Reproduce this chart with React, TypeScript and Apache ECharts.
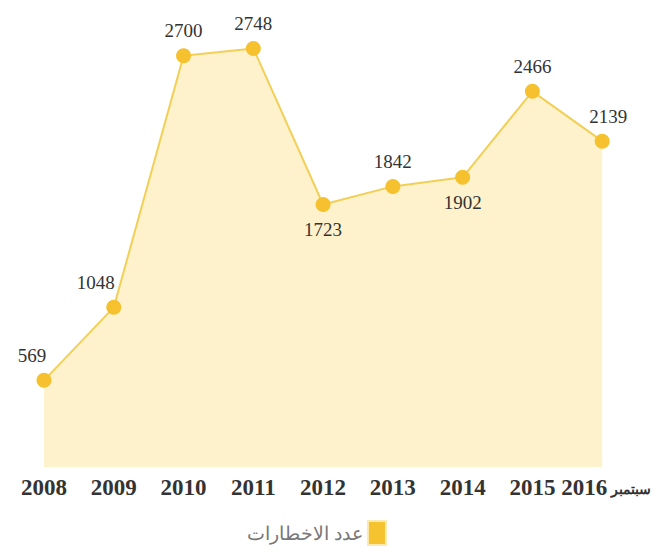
import React, { useEffect, useRef } from "react";
import * as echarts from "echarts";

const categories = ["2008", "2009", "2010", "2011", "2012", "2013", "2014", "2015", "سبتمبر 2016"];
const values = [569, 1048, 2700, 2748, 1723, 1842, 1902, 2466, 2139];
const seriesName = "عدد الاخطارات";
// label placement per point: "top" or "bottom", with horizontal nudge
const labelPos = ["top", "top", "top", "top", "bottom", "top", "bottom", "top", "top"];
const labelDx = [-12, -18, 0, 0, 0, 0, 0, 0, 6];

export default function App() {
  const ref = useRef<HTMLDivElement>(null);
  useEffect(() => {
    if (!ref.current) return;
    const chart = echarts.init(ref.current, null, { renderer: "svg" });
    const numFont = "'Liberation Serif', serif";
    chart.setOption({
      animation: false,
      backgroundColor: "#ffffff",
      grid: { left: 44, right: 41, top: 10, bottom: 87, containLabel: false },
      xAxis: {
        type: "category",
        data: categories,
        boundaryGap: false,
        axisLine: { show: false },
        axisTick: { show: false },
        axisLabel: {
          margin: 9,
          color: "#333333",
          fontSize: 23,
          fontWeight: "bold",
          fontFamily: numFont,
          interval: 0,
          formatter: (v: string) => {
            const m = v.match(/^(\D+)\s+(\d+)$/);
            if (m) return "{num|" + m[2] + "}{ar| " + m[1] + "}";
            return v;
          },
          rich: {
            num: {
              color: "#333333",
              fontSize: 23,
              fontWeight: "bold",
              fontFamily: numFont,
              padding: [0, 0, 0, 8],
            },
            ar: {
              color: "#333333",
              fontSize: 14,
              fontFamily: "'Noto Sans', sans-serif",
              padding: [2, 0, 0, 0],
            },
          },
        },
      },
      yAxis: {
        type: "value",
        min: 0,
        max: 3000,
        show: false,
        splitLine: { show: false },
      },
      legend: {
        show: true,
        bottom: 3,
        left: 242,
        align: "right",
        itemWidth: 18,
        itemHeight: 24,
        itemGap: 10,
        icon: "rect",
        textStyle: { color: "#777777", fontSize: 19, fontFamily: "'Noto Sans', sans-serif" },
        data: [{ name: seriesName, itemStyle: { color: "#F5C330", borderColor: "#FBE9B0", borderWidth: 2 } }],
      },
      series: [
        {
          name: seriesName,
          type: "line",
          data: values.map((v, i) => ({
            value: v,
            label: {
              position: labelPos[i],
              offset: [labelDx[i], 0],
            },
          })),
          symbol: "circle",
          symbolSize: 15,
          itemStyle: { color: "#F5C12E" },
          lineStyle: { color: "#F2CF55", width: 2 },
          areaStyle: { color: "#FDF2CC", opacity: 1 },
          label: {
            show: true,
            distance: 8,
            color: "#333333",
            fontSize: 19,
            fontFamily: numFont,
          },
        },
      ],
    });
    return () => chart.dispose();
  }, []);
  return (
    <div
      ref={ref}
      style={{ position: "fixed", left: 0, top: 0, width: 654, height: 554 }}
    />
  );
}
